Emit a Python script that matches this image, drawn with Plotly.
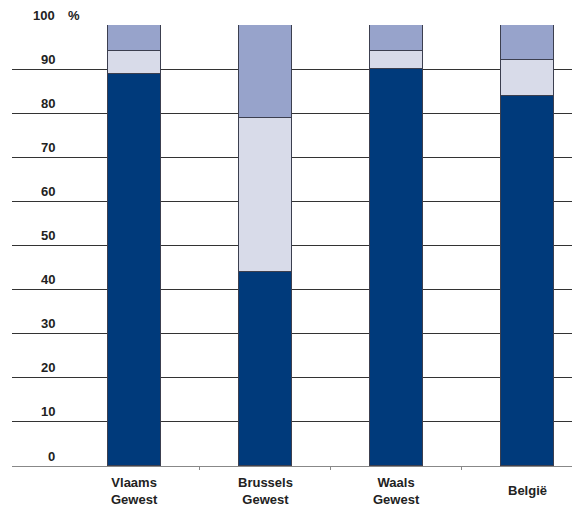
import plotly.graph_objects as go

categories = ["Vlaams<br>Gewest", "Brussels<br>Gewest", "Waals<br>Gewest", "België"]
dark_values = [89, 44, 90, 84]
light_values = [5, 35, 4, 8]
top_values = [6, 21, 6, 8]
y_tick_values = [0, 10, 20, 30, 40, 50, 60, 70, 80, 90, 100]
y_tick_labels = ["0", "10", "20", "30", "40", "50", "60", "70", "80", "90", "100"]

FONT = "Liberation Sans, Arial, sans-serif"
x_idx = list(range(len(categories)))

fig = go.Figure()
line = dict(color="#3c3f4f", width=1)
fig.add_bar(x=x_idx, y=dark_values, marker=dict(color="#003a7b", line=line), width=0.405)
fig.add_bar(x=x_idx, y=light_values, marker=dict(color="#d8dbe9", line=line), width=0.405)
fig.add_bar(x=x_idx, y=top_values, marker=dict(color="#97a3cb", line=line), width=0.405)

annotations = []
for v, t in zip(y_tick_values, y_tick_labels):
    annotations.append(dict(x=0.081, xref="paper", y=v, yref="y", text="<b>%s</b>" % t,
                            showarrow=False, xanchor="right", yanchor="middle", yshift=10,
                            font=dict(family=FONT, size=13, color="#222")))
annotations.append(dict(x=0.097, xref="paper", y=100, yref="y", text="<b>%</b>",
                        showarrow=False, xanchor="left", yanchor="middle", yshift=10,
                        font=dict(family=FONT, size=13, color="#222")))
for i, c in enumerate(categories):
    annotations.append(dict(x=i, xref="x", y=-0.056, yref="paper", text="<b>%s</b>" % c,
                            showarrow=False, xanchor="center", yanchor="middle",
                            font=dict(family=FONT, size=13, color="#222")))

fig.update_layout(
    barmode="stack",
    width=572, height=508,
    margin=dict(l=12, r=0, t=25, b=42),
    paper_bgcolor="white", plot_bgcolor="white",
    showlegend=False,
    bargap=0,
    hovermode=False,
    annotations=annotations,
    xaxis=dict(range=[-0.935, 3.34], tickvals=[0.5, 1.5, 2.5], ticks="outside", ticklen=3,
               tickcolor="#888", showticklabels=False, showgrid=False, zeroline=False,
               showline=True, linecolor="#888", linewidth=1),
    yaxis=dict(range=[0, 100], tickvals=y_tick_values, showticklabels=False, showgrid=True,
               gridcolor="#333", gridwidth=1, zeroline=False, showline=False),
)

fig.write_html("out.html", config={"displayModeBar": False},
               post_script="document.body.style.margin='0';document.body.style.overflow='hidden';")
